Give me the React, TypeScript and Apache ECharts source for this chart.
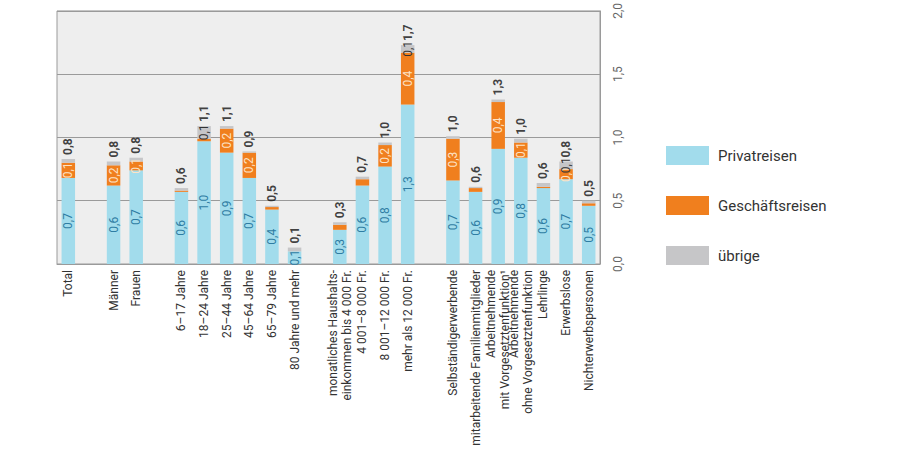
import React, { useEffect, useRef } from "react";
import * as echarts from "echarts";

const categories = [
  "Total", " ", "Männer", "Frauen", "  ",
  "6–17 Jahre", "18–24 Jahre", "25–44 Jahre", "45–64 Jahre", "65–79 Jahre", "80 Jahre und mehr", "   ",
  "monatliches Haushalts-\neinkommen bis 4 000 Fr.", "4 001–8 000 Fr.", "8 001–12 000 Fr.", "mehr als 12 000 Fr.", "    ",
  "Selbständigerwerbende", "mitarbeitende Familienmitglieder", "Arbeitnehmende\nmit Vorgesetztenfunktion¹",
  "Arbeitnehmende\nohne Vorgesetztenfunktion", "Lehrlinge", "Erwerbslose", "Nichterwerbspersonen",
];

const privatreisen = [0.68, null, 0.62, 0.74, null, 0.57, 0.97, 0.88, 0.68, 0.43, 0.10, null, 0.27, 0.62, 0.77, 1.26, null, 0.66, 0.57, 0.91, 0.84, 0.60, 0.67, 0.46];
const geschaeftsreisen = [0.12, null, 0.16, 0.07, null, 0.01, 0.02, 0.19, 0.20, 0.02, 0.0, null, 0.04, 0.05, 0.17, 0.41, null, 0.33, 0.03, 0.37, 0.12, 0.01, 0.08, 0.02];
const uebrige = [0.03, null, 0.03, 0.03, null, 0.02, 0.10, 0.02, 0.01, 0.01, 0.03, null, 0.02, 0.02, 0.02, 0.06, null, 0.02, 0.01, 0.02, 0.03, 0.03, 0.06, 0.02];

const yTicks = [0, 0.5, 1, 1.5, 2];

const fmt = (v: number) => v.toFixed(1).replace(".", ",");

const totals = privatreisen.map((p, i) =>
  p == null ? null : Math.round(((p || 0) + (geschaeftsreisen[i] || 0) + (uebrige[i] || 0)) * 1000) / 1000
);

const FONT = "Roboto, 'Noto Sans', sans-serif";
const BLUE = "#a2dcec";
const ORANGE = "#f07f1e";
const GREY = "#c6c6c8";

export default function App() {
  const ref = useRef<HTMLDivElement>(null);
  useEffect(() => {
    if (!ref.current) return;
    const chart = echarts.init(ref.current, undefined, { renderer: "svg" });
    const segLabel = (color: string, threshold: number) => ({
      show: true,
      position: "inside" as const,
      rotate: 90,
      fontSize: 12,
      fontFamily: FONT,
      color,
      formatter: (p: any) => (p.value != null && p.value >= threshold ? fmt(p.value) : ""),
    });
    chart.setOption({
      animation: false,
      textStyle: { fontFamily: FONT },
      grid: {
        left: 57,
        right: 300,
        top: 8,
        bottom: 186,
        show: true,
        backgroundColor: "#eeeeee",
        borderColor: "#9a9a9a",
        borderWidth: 1,
      },
      legend: {
        data: ["Privatreisen", "Geschäftsreisen", "übrige"],
        orient: "vertical",
        left: 666,
        top: 146,
        itemWidth: 43,
        itemHeight: 19,
        itemGap: 31,
        padding: 0,
        icon: "rect",
        textStyle: { fontSize: 15, color: "#333", fontFamily: FONT, padding: [0, 0, 0, 4] },
      },
      xAxis: {
        type: "category",
        data: categories,
        axisTick: { show: false },
        axisLine: { show: true, lineStyle: { color: "#9a9a9a" } },
        axisLabel: {
          interval: 0,
          rotate: 90,
          fontSize: 12,
          lineHeight: 14,
          color: "#333",
          margin: 6,
          fontFamily: FONT,
        },
      },
      yAxis: {
        type: "value",
        position: "right",
        min: 0,
        max: 2,
        interval: 0.5,
        axisLine: { show: true, lineStyle: { color: "#9a9a9a" } },
        axisTick: { show: false },
        splitLine: { show: true, lineStyle: { color: "#9a9a9a", width: 1 } },
        axisLabel: {
          rotate: 90,
          margin: 12,
          fontSize: 12,
          color: "#666",
          fontFamily: FONT,
          formatter: (v: number) => (yTicks.includes(v) ? fmt(v) : ""),
        },
      },
      series: [
        {
          name: "Privatreisen",
          type: "bar",
          stack: "s",
          barWidth: 13.5,
          itemStyle: { color: BLUE },
          label: segLabel("#2f7da3", 0),
          data: privatreisen,
        },
        {
          name: "Geschäftsreisen",
          type: "bar",
          stack: "s",
          barWidth: 13.5,
          itemStyle: { color: ORANGE },
          label: segLabel("#fde3c6", 0.055),
          data: geschaeftsreisen,
        },
        {
          name: "übrige",
          type: "bar",
          stack: "s",
          barWidth: 13.5,
          itemStyle: { color: GREY },
          label: segLabel("#333", 0.055),
          data: uebrige,
        },
        {
          name: "Total",
          type: "scatter",
          symbolSize: 0,
          z: 10,
          data: totals,
          label: {
            show: true,
            position: "top",
            rotate: 90,
            align: "left",
            verticalAlign: "middle",
            distance: 4,
            fontSize: 12,
            fontWeight: "bold",
            color: "#111",
            fontFamily: FONT,
            formatter: (p: any) => (p.value != null ? fmt(p.value) : ""),
          },
        },
      ],
    });
    return () => chart.dispose();
  }, []);
  return (
    <div
      ref={ref}
      style={{ position: "fixed", left: 0, top: 0, width: 900, height: 450, background: "#fff" }}
    />
  );
}
